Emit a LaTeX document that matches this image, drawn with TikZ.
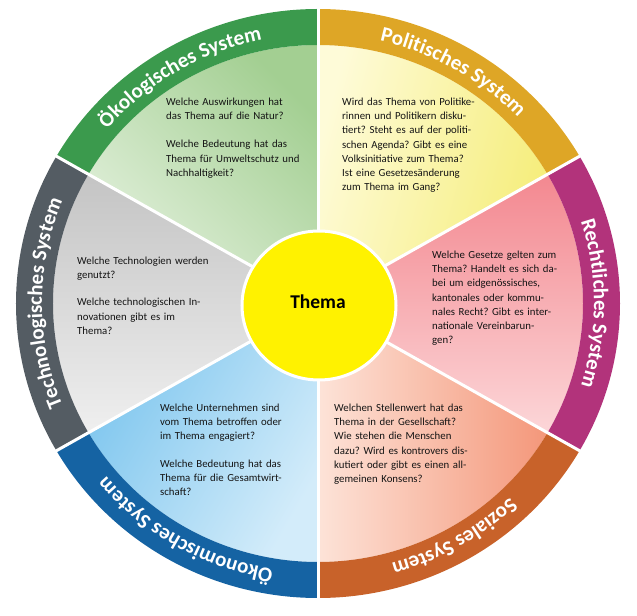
\documentclass[tikz,border=0pt]{standalone}
\usepackage{fontspec}
\setmainfont{Carlito}
\usetikzlibrary{decorations.text,shapes.geometric}
\definecolor{grnD}{HTML}{A3CF92}
\definecolor{grnL}{HTML}{E4F1DE}
\definecolor{yelL}{HTML}{FEFBD8}
\definecolor{yelD}{HTML}{F5ED78}
\definecolor{pnkD}{HTML}{F38890}
\definecolor{pnkL}{HTML}{FCD6D8}
\definecolor{orgD}{HTML}{F4977A}
\definecolor{orgL}{HTML}{FDE3D8}
\definecolor{bluD}{HTML}{7CC5EE}
\definecolor{bluL}{HTML}{D3ECFA}
\definecolor{gryD}{HTML}{C4C4C4}
\definecolor{gryL}{HTML}{EFEFEF}
\definecolor{bGrn}{HTML}{3B9A4D}
\definecolor{bGld}{HTML}{DEA626}
\definecolor{bMag}{HTML}{B2337B}
\definecolor{bOrg}{HTML}{C8622A}
\definecolor{bBlu}{HTML}{1563A3}
\definecolor{bGry}{HTML}{545C63}
\definecolor{txt}{HTML}{141414}
\newcommand\lblfont{\fontsize{21bp}{21bp}\selectfont\bfseries\color{white}}
\frenchspacing
\begin{document}
\begin{tikzpicture}[x=1bp,y=1bp,
  qtext/.style={anchor=base west, inner sep=0pt, text width=180bp, align=left,
    font=\fontsize{10.8bp}{14.2bp}\selectfont, text=txt},
  lbl/.style={decorate, decoration={text along path, text align=center, text={|\lblfont|#1}}},
  sep/.style={white, line width=3bp}]
\useasboundingbox (-318,-312.5) rectangle (319,303.5);
\fill[white] (-318,-312.5) rectangle (319,303.5);
\coordinate (c) at (0,0);
% inner sectors
\foreach \a/\ca/\cb/\sa [evaluate=\a as \b using \a+60] in
  {90/grnD/grnL/-45, 30/yelL/yelD/75, -30/pnkD/pnkL/0, -90/orgL/orgD/90, 210/bluD/bluL/60, 150/gryD/gryL/0}
  \shade[top color=\ca, bottom color=\cb, shading angle=\sa]
    (c) -- (\a:265bp and 258.5bp) arc[start angle=\a, end angle=\b, x radius=265bp, y radius=258.5bp] -- cycle;
% outer bands
\foreach \a/\cc [evaluate=\a as \b using \a+60] in
  {90/bGrn, 30/bGld, -30/bMag, -90/bOrg, 210/bBlu, 150/bGry}
  \fill[\cc] (\a:302bp and 294.5bp) arc[start angle=\a, end angle=\b, x radius=302bp, y radius=294.5bp]
    -- (\b:265bp and 258.5bp) arc[start angle=\b, end angle=\a, x radius=265bp, y radius=258.5bp] -- cycle;
% separators
\foreach \a in {30,90,...,330}
  \draw[sep] (c) -- (\a:320bp and 312bp);
% band labels
\path[lbl={Ökologisches System}] (171:276bp and 269.5bp) arc[start angle=171, end angle=71, x radius=276bp, y radius=269.5bp];
\path[lbl={Politisches System}] (110:276bp and 269.5bp) arc[start angle=110, end angle=10, x radius=276bp, y radius=269.5bp];
\path[lbl={Rechtliches System}] (50:276bp and 269.5bp) arc[start angle=50, end angle=-50, x radius=276bp, y radius=269.5bp];
\path[lbl={Soziales System}] (-10:276bp and 269.5bp) arc[start angle=-10, end angle=-110, x radius=276bp, y radius=269.5bp];
\path[lbl={Ökonomisches System}] (-70:276bp and 269.5bp) arc[start angle=-70, end angle=-170, x radius=276bp, y radius=269.5bp];
\path[lbl={Technologisches System}] (230:276bp and 269.5bp) arc[start angle=230, end angle=130, x radius=276bp, y radius=269.5bp];
% centre
\node[ellipse, draw=white, line width=3bp, fill=yellow, minimum width=154bp, minimum height=149bp, inner sep=0pt] (core) at (1,-2) {};
\node[font=\fontsize{19.5bp}{19.5bp}\selectfont\bfseries, text=black] (thema) at (0,1.5) {Thema};
% questions
\node[qtext] (qoek) at (-152,198) {Welche Auswirkungen hat\\
das Thema auf die Natur?\\[14bp]
Welche Bedeutung hat das\\
Thema für Umweltschutz und\\
Nachhaltigkeit?};
\node[qtext] (qpol) at (24,198) {Wird das Thema von Politike-\\
rinnen und Politikern disku-\\
tiert? Steht es auf der politi-\\
schen Agenda? Gibt es eine\\
Volksinitiative zum Thema?\\
Ist eine Gesetzesänderung\\
zum Thema im Gang?};
\node[qtext] (qtec) at (-241,39) {Welche Technologien werden\\
genutzt?\\[13bp]
Welche technologischen In-\\
novationen gibt es im\\
Thema?};
\node[qtext] (qrec) at (114,45) {Welche Gesetze gelten zum\\
Thema? Handelt es sich da-\\
bei um eidgenössisches,\\
kantonales oder kommu-\\
nales Recht? Gibt es inter-\\
nationale Vereinbarun-\\
gen?};
\node[qtext] (qoko) at (-158,-108) {Welche Unternehmen sind\\
vom Thema betroffen oder\\
im Thema engagiert?\\[13bp]
Welche Bedeutung hat das\\
Thema für die Gesamtwirt-\\
schaft?};
\node[qtext] (qsoz) at (16,-108) {Welchen Stellenwert hat das\\
Thema in der Gesellschaft?\\
Wie stehen die Menschen\\
dazu? Wird es kontrovers dis-\\
kutiert oder gibt es einen all-\\
gemeinen Konsens?};
\end{tikzpicture}
\end{document}
